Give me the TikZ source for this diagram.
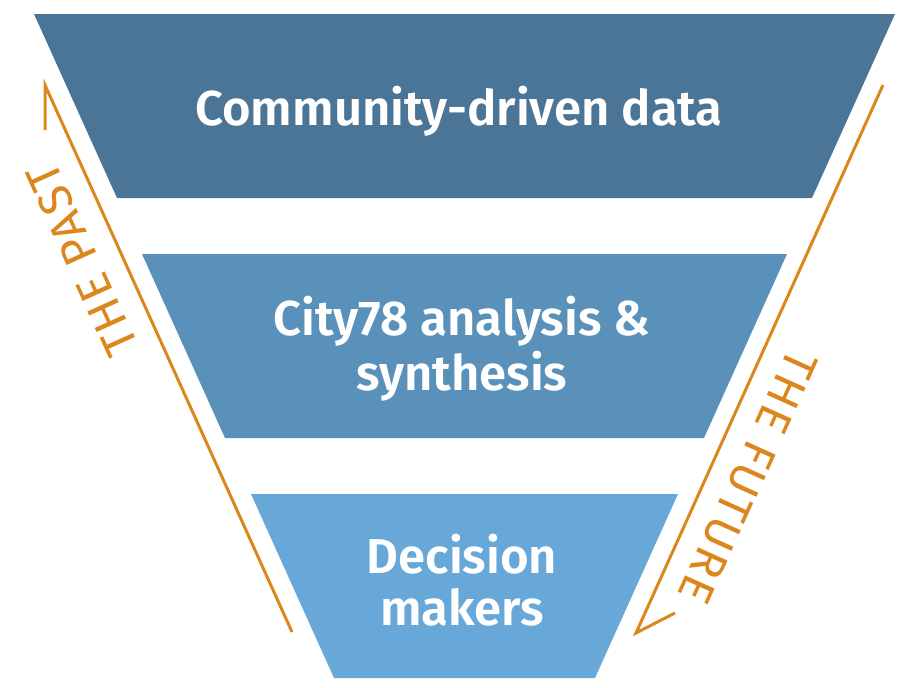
\documentclass[tikz,border=0pt]{standalone}
\usepackage{fontspec}
\setmainfont{Fira Sans}
\newfontfamily\boldfnt{Fira Sans}[UprightFont=* SemiBold]
\newfontfamily\timefnt{Fira Sans}[LetterSpace=4]
\definecolor{tierA}{RGB}{74,117,150}
\definecolor{tierB}{RGB}{90,145,187}
\definecolor{tierC}{RGB}{104,168,216}
\definecolor{timeorange}{RGB}{220,135,30}
\tikzset{
  tiertext/.style={text=white, inner sep=0pt, anchor=base, font=\boldfnt\fontsize{49}{55}\selectfont},
  timetext/.style={text=timeorange, inner sep=0pt, anchor=center, font=\timefnt\fontsize{47}{50}\selectfont},
  timeline/.style={draw=timeorange, line width=3pt, line join=miter}
}
\begin{document}
\begin{tikzpicture}[x=1pt,y=-1pt]
\useasboundingbox (0,0) rectangle (916,688);
% funnel tiers
\fill[tierA] (34,14) -- (895,14) -- (812,198) -- (117,198) -- cycle;
\fill[tierB] (142,254) -- (787,254) -- (704,438) -- (225,438) -- cycle;
\fill[tierC] (251,494) -- (678,494) -- (595,678) -- (334,678) -- cycle;
% texts
\node[tiertext] (t1) at (459,125) {Community-driven data};
\node[tiertext] (t2a) at (462,335) {City78 analysis \&};
\node[tiertext] (t2b) at (462,390) {synthesis};
\node[tiertext] (t3a) at (462,573) {Decision};
\node[tiertext] (t3b) at (462,625) {makers};
% time arrows
\coordinate (pastHook) at (45,130);
\coordinate (pastTip) at (45,85);
\coordinate (pastEnd) at (292,632);
\coordinate (futStart) at (883,85);
\coordinate (futTip) at (636,633);
\coordinate (futHook) at (675,613);
\draw[timeline] (pastHook) -- (pastTip) -- (pastEnd);
\draw[timeline] (futStart) -- (futTip) -- (futHook);
\node[timetext, rotate=114.3] (past) at (82,260) {THE PAST};
\node[timetext, rotate=-114.3] (future) at (748,477) {THE FUTURE};
\end{tikzpicture}
\end{document}
